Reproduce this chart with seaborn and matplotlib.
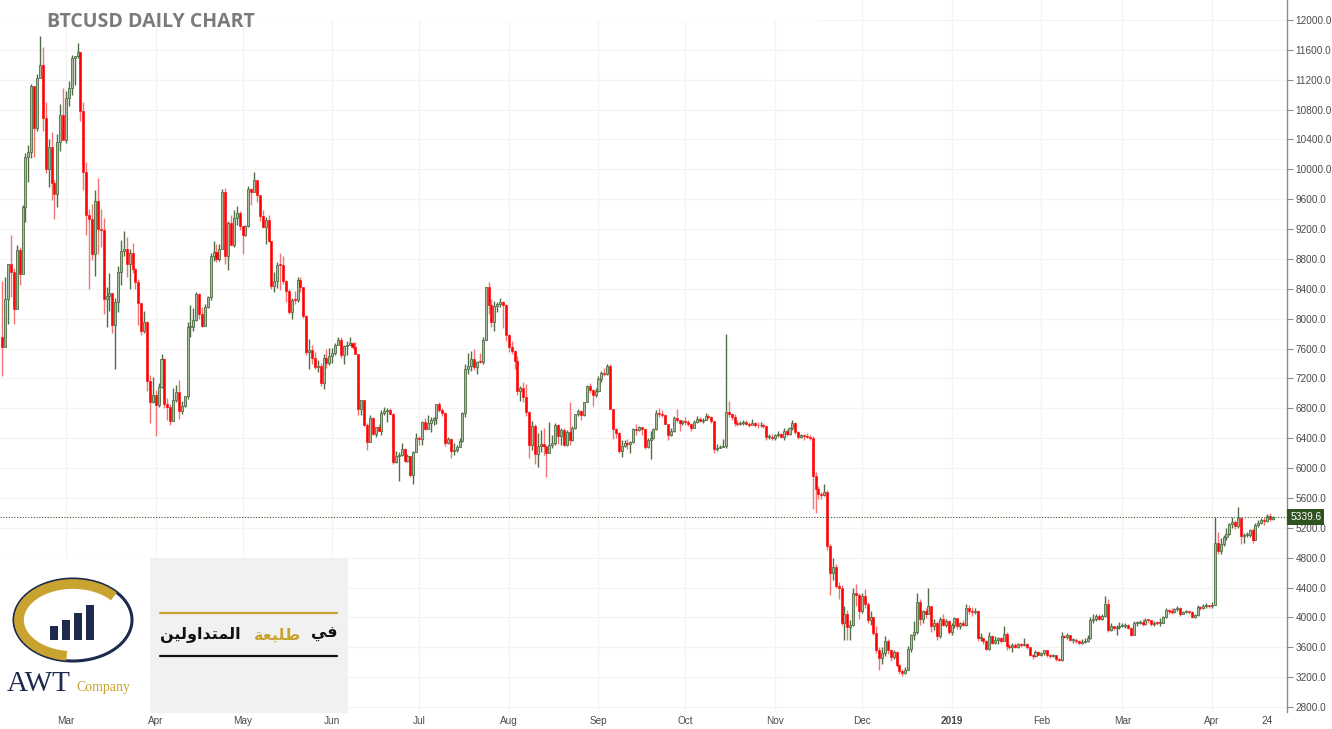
import numpy as np
import pandas as pd
import matplotlib
matplotlib.use("Agg")
import matplotlib.pyplot as plt
import seaborn as sns
from matplotlib.patches import Rectangle, Ellipse, Arc

# ---------------- data (BTCUSD daily) ----------------
START_DATE = "2018-02-07"
FIRST_OPEN = 7755

CLOSE = [
    # Feb 2018 (7-28)
    7621, 8265, 8737, 8621, 8129, 8926, 8598, 9494, 10166, 10233, 11112, 10551, 11225, 11403, 10690, 10005, 10301, 9813, 9664, 10366, 10725, 10397,
    # Mar 2018
    10951, 11086, 11489, 11512, 11573, 10779, 9965, 9395, 9337, 8866, 9578, 9205, 9194, 8269, 8300, 8338, 7916, 8223, 8630, 8913, 8929, 8728, 8879, 8668, 8495, 8209, 7833, 7954, 7165, 6890, 6973,
    # Apr 2018
    6845, 7083, 7456, 6853, 6811, 6636, 6911, 7023, 6770, 6834, 6968, 7889, 7895, 7986, 8329, 8058, 7902, 8163, 8294, 8845, 8895, 8802, 8930, 9697, 8845, 9281, 8987, 9348, 9419, 9240,
    # May 2018
    9119, 9235, 9743, 9700, 9858, 9654, 9373, 9234, 9325, 9043, 8441, 8504, 8723, 8716, 8510, 8368, 8094, 8250, 8247, 8513, 8418, 8041, 7557, 7587, 7480, 7355, 7368, 7135, 7472, 7406, 7494,
    # Jun 2018
    7541, 7643, 7720, 7514, 7633, 7653, 7678, 7624, 7531, 6786, 6906, 6582, 6349, 6675, 6456, 6550, 6499, 6734, 6769, 6776, 6729, 6083, 6162, 6173, 6249, 6093, 6157, 5903, 6218, 6404,
    # Jul 2018
    6385, 6614, 6529, 6597, 6639, 6673, 6857, 6773, 6741, 6329, 6394, 6228, 6238, 6276, 6359, 6741, 7321, 7370, 7466, 7354, 7419, 7418, 7711, 8424, 8181, 7951, 8166, 8193, 8218, 8180, 7780,
    # Aug 2018
    7625, 7567, 7434, 7032, 7068, 6951, 6753, 6305, 6569, 6184, 6295, 6322, 6297, 6199, 6308, 6334, 6580, 6423, 6506, 6308, 6488, 6376, 6534, 6719, 6763, 6707, 6884, 7096, 7048, 6978, 7037,
    # Sep 2018
    7193, 7273, 7260, 7361, 6793, 6529, 6467, 6225, 6300, 6329, 6321, 6351, 6517, 6512, 6543, 6517, 6281, 6371, 6398, 6519, 6734, 6721, 6711, 6595, 6446, 6495, 6676, 6644, 6601, 6625,
    # Oct 2018
    6620, 6590, 6540, 6610, 6660, 6630, 6650, 6700, 6690, 6630, 6256, 6274, 6285, 6290, 6750, 6720, 6690, 6600, 6590, 6600, 6610, 6590, 6580, 6600, 6580, 6570, 6580, 6560, 6420, 6420, 6400,
    # Nov 2018
    6440, 6460, 6420, 6500, 6460, 6530, 6600, 6480, 6410, 6440, 6430, 6420, 6400, 5900, 5720, 5650, 5640, 5680, 4950, 4600, 4680, 4420, 4400, 3930, 4050, 3870, 3900, 4330, 4300, 4080,
    # Dec 2018
    4280, 4180, 3960, 4000, 3790, 3560, 3460, 3520, 3680, 3560, 3470, 3540, 3360, 3280, 3260, 3300, 3580, 3760, 3800, 4200, 3980, 4080, 4050, 4150, 3880, 3920, 3750, 3980, 3900, 3950, 3800,
    # Jan 2019
    3900, 3990, 3880, 3920, 3900, 4130, 4080, 4070, 4080, 3720, 3720, 3680, 3580, 3750, 3660, 3700, 3720, 3690, 3780, 3620, 3600, 3630, 3610, 3640, 3630, 3640, 3600, 3500, 3480, 3530, 3500,
    # Feb 2019
    3520, 3560, 3490, 3480, 3490, 3440, 3430, 3750, 3740, 3770, 3700, 3700, 3680, 3660, 3670, 3690, 3720, 3960, 3980, 4020, 3980, 4020, 4180, 3830, 3880, 3860, 3870, 3880,
    # Mar 2019
    3890, 3900, 3860, 3770, 3920, 3930, 3940, 3910, 3970, 3960, 3910, 3930, 3920, 3930, 4000, 4100, 4080, 4070, 4110, 4130, 4050, 4070, 4080, 4070, 4010, 4030, 4140, 4120, 4150, 4160, 4150,
    # Apr 2019 (1-22)
    4170, 4990, 4890, 4980, 5080, 5120, 5250, 5280, 5220, 5330, 5090, 5100, 5110, 5170, 5040, 5240, 5270, 5300, 5290, 5360, 5320, 5339.6,
]

HIGH = [
    8509, 8558, 8737, 9122, 8679, 8985, 8958, 9518, 10219, 10324, 11139, 11075, 11274, 11790, 11635, 10901, 10410, 10501, 9860, 10475, 10878, 11089,
    11047, 11189, 11528, 11512, 11690, 11576, 10900, 10099, 9466, 9531, 9717, 9889, 9470, 9355, 8421, 8606, 8346, 8275, 8706, 9051, 9177, 9100, 8937, 9007, 8682, 8530, 8211, 8108, 7965, 7242, 7223,
    7049, 7135, 7530, 7469, 6933, 6857, 7075, 7111, 7178, 6892, 6968, 7950, 8183, 8140, 8357, 8338, 8162, 8197, 8300, 8876, 9036, 9001, 9003, 9732, 9746, 9307, 9392, 9456, 9508, 9443,
    9241, 9257, 9779, 9745, 9964, 9861, 9648, 9450, 9366, 9386, 9043, 8624, 8754, 8880, 8836, 8518, 8402, 8281, 8373, 8557, 8562, 8418, 8050, 7734, 7644, 7559, 7452, 7407, 7531, 7597, 7608,
    7604, 7681, 7758, 7754, 7653, 7705, 7750, 7691, 7682, 7531, 6909, 6911, 6608, 6707, 6681, 6556, 6589, 6781, 6814, 6808, 6800, 6735, 6233, 6210, 6331, 6269, 6190, 6167, 6231, 6465,
    6432, 6631, 6676, 6707, 6683, 6679, 6861, 6880, 6803, 6748, 6411, 6396, 6331, 6302, 6398, 6747, 7387, 7537, 7561, 7590, 7431, 7537, 7752, 8424, 8485, 8266, 8234, 8219, 8271, 8233, 8196,
    7790, 7696, 7580, 7496, 7093, 7150, 7131, 6759, 6625, 6586, 6470, 6513, 6540, 6300, 6620, 6439, 6598, 6596, 6534, 6537, 6510, 6882, 6560, 6725, 6785, 6774, 6890, 7111, 7138, 7063, 7072,
    7230, 7305, 7340, 7388, 7397, 6793, 6542, 6480, 6378, 6373, 6395, 6357, 6536, 6584, 6566, 6545, 6530, 6402, 6493, 6535, 6781, 6810, 6782, 6723, 6595, 6540, 6695, 6795, 6643, 6643,
    6690, 6640, 6600, 6650, 6700, 6680, 6670, 6740, 6720, 6700, 6630, 6320, 6306, 6390, 7800, 6900, 6740, 6720, 6640, 6630, 6650, 6640, 6620, 6660, 6620, 6610, 6610, 6600, 6580, 6450, 6450,
    6460, 6490, 6470, 6540, 6520, 6550, 6650, 6610, 6490, 6460, 6450, 6470, 6440, 6430, 5950, 5760, 5680, 5780, 5700, 4980, 4800, 4720, 4480, 4440, 4150, 4100, 3960, 4400, 4450, 4320,
    4330, 4380, 4200, 4080, 4010, 3880, 3600, 3600, 3750, 3710, 3580, 3570, 3550, 3380, 3310, 3340, 3620, 3780, 3950, 4330, 4250, 4100, 4120, 4400, 4150, 3980, 3950, 4000, 4050, 3980, 3970,
    3920, 4010, 3990, 3940, 3960, 4180, 4160, 4140, 4120, 4100, 3790, 3730, 3700, 3800, 3760, 3750, 3740, 3740, 3880, 3800, 3640, 3660, 3660, 3660, 3660, 3720, 3660, 3600, 3510, 3560, 3550,
    3540, 3570, 3570, 3510, 3510, 3500, 3460, 3800, 3770, 3790, 3770, 3730, 3720, 3700, 3710, 3720, 3760, 4000, 4050, 4040, 4040, 4040, 4290, 4240, 3920, 3890, 3900, 3940,
    3920, 3920, 3910, 3870, 3950, 3950, 3960, 3980, 3990, 3980, 3970, 3950, 3950, 3990, 4020, 4130, 4110, 4120, 4120, 4150, 4140, 4090, 4100, 4090, 4080, 4050, 4160, 4150, 4180, 4190, 4170,
    4200, 5340, 5150, 5060, 5100, 5200, 5270, 5340, 5300, 5480, 5340, 5130, 5150, 5190, 5200, 5260, 5300, 5330, 5340, 5380, 5400, 5360,
]

LOW = [
    7236, 7637, 7931, 8295, 7931, 8141, 8455, 8613, 9301, 9824, 10149, 10170, 10513, 11231, 10507, 9945, 9759, 9595, 9335, 9501, 10247, 10393,
    10350, 10850, 11002, 11136, 11497, 10641, 9722, 9121, 8397, 8781, 8577, 8872, 8958, 8069, 7895, 8105, 7812, 7323, 8094, 8455, 8846, 8564, 8400, 8612, 8397, 7921, 7787, 7815, 7036, 6600, 6877,
    6430, 6816, 7068, 6804, 6645, 6575, 6625, 6890, 6661, 6724, 6818, 6918, 7755, 7831, 7970, 7999, 7884, 7899, 8140, 8249, 8779, 8753, 8776, 8928, 8730, 8651, 8986, 8954, 9260, 9183,
    8870, 9104, 9233, 9525, 9690, 9560, 9304, 9216, 9004, 9032, 8393, 8352, 8406, 8380, 8469, 8218, 8065, 7994, 8200, 8218, 8361, 8010, 7509, 7331, 7392, 7329, 7292, 7100, 7059, 7345, 7380,
    7407, 7509, 7643, 7474, 7397, 7512, 7652, 7589, 7531, 6712, 6708, 6568, 6241, 6343, 6440, 6418, 6499, 6446, 6714, 6621, 6720, 6060, 6073, 5826, 6157, 6079, 6084, 5880, 5791, 6214,
    6306, 6315, 6509, 6519, 6486, 6577, 6596, 6748, 6691, 6300, 6327, 6132, 6170, 6213, 6276, 6345, 6684, 7256, 7295, 7308, 7255, 7402, 7396, 7710, 8057, 7883, 7837, 8086, 8160, 7878, 7703,
    7556, 7524, 7328, 6984, 6897, 6890, 6703, 6138, 6236, 6055, 6011, 6210, 6169, 5880, 6199, 6263, 6306, 6324, 6315, 6299, 6301, 6315, 6365, 6524, 6700, 6650, 6702, 6880, 7003, 6834, 6958,
    7018, 7147, 7226, 7248, 6790, 6389, 6400, 6201, 6146, 6281, 6260, 6208, 6342, 6449, 6495, 6441, 6254, 6268, 6122, 6386, 6509, 6685, 6678, 6584, 6372, 6424, 6480, 6610, 6500, 6570,
    6580, 6560, 6500, 6530, 6600, 6610, 6600, 6640, 6660, 6600, 6205, 6233, 6268, 6282, 6270, 6680, 6640, 6560, 6560, 6570, 6580, 6570, 6550, 6570, 6550, 6540, 6550, 6540, 6380, 6390, 6370,
    6380, 6420, 6400, 6380, 6430, 6440, 6510, 6460, 6390, 6400, 6380, 6400, 6370, 5450, 5400, 5580, 5580, 5620, 4900, 4300, 4500, 4400, 4250, 3900, 3700, 3700, 3700, 3880, 4150, 3980,
    4060, 4120, 3920, 3900, 3760, 3520, 3300, 3380, 3480, 3510, 3420, 3440, 3330, 3240, 3220, 3240, 3290, 3540, 3700, 3780, 3900, 3920, 3990, 4040, 3800, 3830, 3700, 3730, 3880, 3870, 3780,
    3760, 3860, 3850, 3840, 3880, 3880, 4040, 4020, 4040, 3680, 3680, 3640, 3560, 3570, 3640, 3650, 3640, 3660, 3680, 3570, 3580, 3540, 3590, 3590, 3600, 3620, 3580, 3480, 3440, 3470, 3490,
    3480, 3500, 3470, 3460, 3470, 3420, 3410, 3420, 3720, 3710, 3690, 3660, 3660, 3640, 3650, 3660, 3670, 3710, 3930, 3950, 3960, 3970, 4000, 3800, 3820, 3830, 3760, 3850,
    3870, 3860, 3840, 3750, 3760, 3890, 3910, 3880, 3900, 3930, 3890, 3880, 3900, 3880, 3920, 3990, 4050, 4040, 4060, 4090, 4020, 4040, 4060, 4050, 3990, 3990, 4020, 4100, 4110, 4130, 4130,
    4130, 4160, 4850, 4850, 4960, 5040, 5100, 5200, 5180, 5200, 4980, 4990, 5080, 5070, 4990, 5030, 5210, 5250, 5240, 5280, 5290, 5300,
]

PRICE_TICKS = [2800, 3200, 3600, 4000, 4400, 4800, 5200, 5600, 6000, 6400, 6800, 7200,
               7600, 8000, 8400, 8800, 9200, 9600, 10000, 10400, 10800, 11200, 11600, 12000]
MONTH_DATES = ["2018-03-01", "2018-04-01", "2018-05-01", "2018-06-01", "2018-07-01", "2018-08-01",
               "2018-09-01", "2018-10-01", "2018-11-01", "2018-12-01", "2019-01-01", "2019-02-01",
               "2019-03-01", "2019-04-01"]
MONTH_LABELS = ["Mar", "Apr", "May", "Jun", "Jul", "Aug", "Sep", "Oct", "Nov", "Dec", "2019", "Feb", "Mar", "Apr"]
END_LABEL_DATE = "2019-04-20"
END_LABEL = "24"
LAST_PRICE = 5339.6
TITLE = "BTCUSD DAILY CHART"

assert len(CLOSE) == len(HIGH) == len(LOW) == 440

# ---------------- figure ----------------
sns.set_theme(style="white")
plt.rcParams["font.family"] = ["Liberation Sans", "DejaVu Sans"]

W, H = 1332, 729
fig = plt.figure(figsize=(W / 100, H / 100), dpi=100)
fig.patch.set_facecolor("white")
ax = fig.add_axes([0, 1 - 712 / H, 1287 / W, 712 / H])
ax.set_facecolor("white")

ref = pd.Timestamp("2018-03-01")
dates = pd.date_range(START_DATE, periods=len(CLOSE), freq="D")
x = np.array([(d - ref).days for d in dates], dtype=float)
close = np.array(CLOSE, dtype=float)
open_ = np.concatenate([[FIRST_OPEN], close[:-1]])  # 24/7 market: each day opens at prior close
high = np.maximum(np.array(HIGH, dtype=float), np.maximum(open_, close))
low = np.minimum(np.array(LOW, dtype=float), np.minimum(open_, close))

df = pd.DataFrame({"x": x, "open": open_, "high": high, "low": low, "close": close})
df["up"] = df["close"] >= df["open"]

# axis limits chosen so 12000 -> y=20px and 2800 -> y=707px, Mar 1 2018 -> x=66px
px_per_usd = 687 / 9200
ax.set_ylim(2800 - 5 / px_per_usd, 12000 + 20 / px_per_usd)
px_per_day = 2.894
ax.set_xlim(-66 / px_per_day, (1287 - 66) / px_per_day)

# grid
for p in PRICE_TICKS:
    ax.axhline(p, color="#f3f3f3", lw=0.9, zorder=0)
mpos = [(pd.Timestamp(d) - ref).days for d in MONTH_DATES]
for m in mpos:
    ax.axvline(m, color="#f3f3f3", lw=0.9, zorder=0)
# white band behind the title
ax.add_patch(Rectangle((0, 1 - 21 / 712), 818 / 1287, 21 / 712, transform=ax.transAxes,
                       facecolor="white", edgecolor="none", zorder=0.5))

BULL_BODY, BULL_EDGE = "#a9bf9f", "#4f6e45"
BEAR_BODY, BEAR_WICK = "#ff0000", "#f27474"

up = df[df.up]
dn = df[~df.up]
min_h = 12
ax.vlines(up.x, up.low, up.high, color=BULL_EDGE, lw=1.0, zorder=2)
ax.vlines(dn.x, dn.low, dn.high, color=BEAR_WICK, lw=1.0, zorder=2)
ax.bar(up.x, np.maximum(up.close - up.open, min_h), bottom=up.open, width=0.7,
       color=BULL_BODY, edgecolor=BULL_EDGE, linewidth=0.6, zorder=3)
ax.bar(dn.x, np.maximum(dn.open - dn.close, min_h), bottom=dn.close, width=0.7,
       color=BEAR_BODY, edgecolor=BEAR_BODY, linewidth=0.4, zorder=3)

# last price line + tag
ax.axhline(LAST_PRICE, color="#3f5e30", lw=0.8, ls=(0, (1, 1.5)), zorder=4)
ax.text(1.0025, LAST_PRICE, f"{LAST_PRICE:.1f}", transform=ax.get_yaxis_transform(),
        ha="left", va="center", color="white", fontsize=7.3, clip_on=False, zorder=10,
        bbox=dict(boxstyle="square,pad=0.3", facecolor="#2e5320", edgecolor="none"))

# axes styling
for s in ["top", "left", "bottom"]:
    ax.spines[s].set_visible(False)
ax.spines["right"].set_color("#8c8c8c")
ax.spines["right"].set_linewidth(1)
ax.yaxis.tick_right()
ax.set_yticks(PRICE_TICKS)
ax.set_yticklabels([f"{p:.1f}" for p in PRICE_TICKS])
ax.tick_params(axis="y", which="both", right=True, length=4, width=0.8, color="#8c8c8c",
               labelsize=7.2, labelcolor="#4a4a4a", pad=2)
xt = mpos + [(pd.Timestamp(END_LABEL_DATE) - ref).days]
ax.set_xticks(xt)
ax.set_xticklabels(MONTH_LABELS + [END_LABEL])
ax.tick_params(axis="x", length=0, labelsize=7.2, labelcolor="#4a4a4a", pad=3)
for lab in ax.get_xticklabels():
    if lab.get_text() == "2019":
        lab.set_fontweight("bold")
ax.grid(False)

# title
fig.text(47 / W, 1 - 22 / H, TITLE, ha="left", va="center", fontsize=14,
         fontweight="bold", color="#7b7b7b", family=["Open Sans", "DejaVu Sans"])

# ---------------- logo block ----------------
lax = fig.add_axes([0, 1 - 713 / H, 149 / W, 155 / H])
lax.set_xlim(0, 149)
lax.set_ylim(713, 558)
lax.set_facecolor("white")
lax.axis("off")
lax.add_patch(Rectangle((0, 558), 149, 155, facecolor="white", edgecolor="none"))
NAVY, GOLD = "#1d2a4d", "#c9a330"
lax.add_patch(Ellipse((73, 620), 118, 82, fill=False, edgecolor=NAVY, lw=2.2))
lax.add_patch(Arc((73, 620), 108, 72, theta1=100, theta2=330, edgecolor=GOLD, lw=7))
for bx, bh in zip([50, 62, 74, 86], [14, 20, 27, 35]):
    lax.add_patch(Rectangle((bx, 640 - bh), 8, bh, facecolor=NAVY, edgecolor="none"))
lax.text(7, 691, "AWT", ha="left", va="baseline", fontsize=21, color=NAVY,
         family=["Liberation Serif", "DejaVu Serif"])
lax.text(76, 691, "Company", ha="left", va="baseline", fontsize=10, color=GOLD,
         family=["Liberation Serif", "DejaVu Serif"])

gax = fig.add_axes([150 / W, 1 - 713 / H, 198 / W, 155 / H])
gax.set_xlim(150, 348)
gax.set_ylim(713, 558)
gax.axis("off")
gax.add_patch(Rectangle((150, 558), 198, 155, facecolor="#f1f1f1", edgecolor="none"))
gax.plot([160, 337], [613, 613], color=GOLD, lw=1.6)
gax.plot([160, 337], [656, 656], color="#111111", lw=1.6)
# Arabic slogan "في طليعة المتداولين" written in visual order with presentation forms
w_mutadawilin = "\uFEE6\uFEF4\uFEDF\uFEED\uFE8D\uFEAA\uFE98\uFEE4\uFEDF\uFE8D"
w_taliat = "\uFE94\uFECC\uFEF4\uFEE0\uFEC3"
w_fi = "\uFEF2\uFED3"
ar_font = ["DejaVu Sans"]
gax.text(160, 635, w_mutadawilin, ha="left", va="center", fontsize=11.5, fontweight="bold",
         color="#111111", family=ar_font)
gax.text(301, 635, w_taliat, ha="right", va="center", fontsize=11.5, fontweight="bold",
         color=GOLD, family=ar_font)
gax.text(337, 635, w_fi, ha="right", va="center", fontsize=11.5, fontweight="bold",
         color="#111111", family=ar_font)

fig.savefig("out.png", dpi=100, facecolor="white")
